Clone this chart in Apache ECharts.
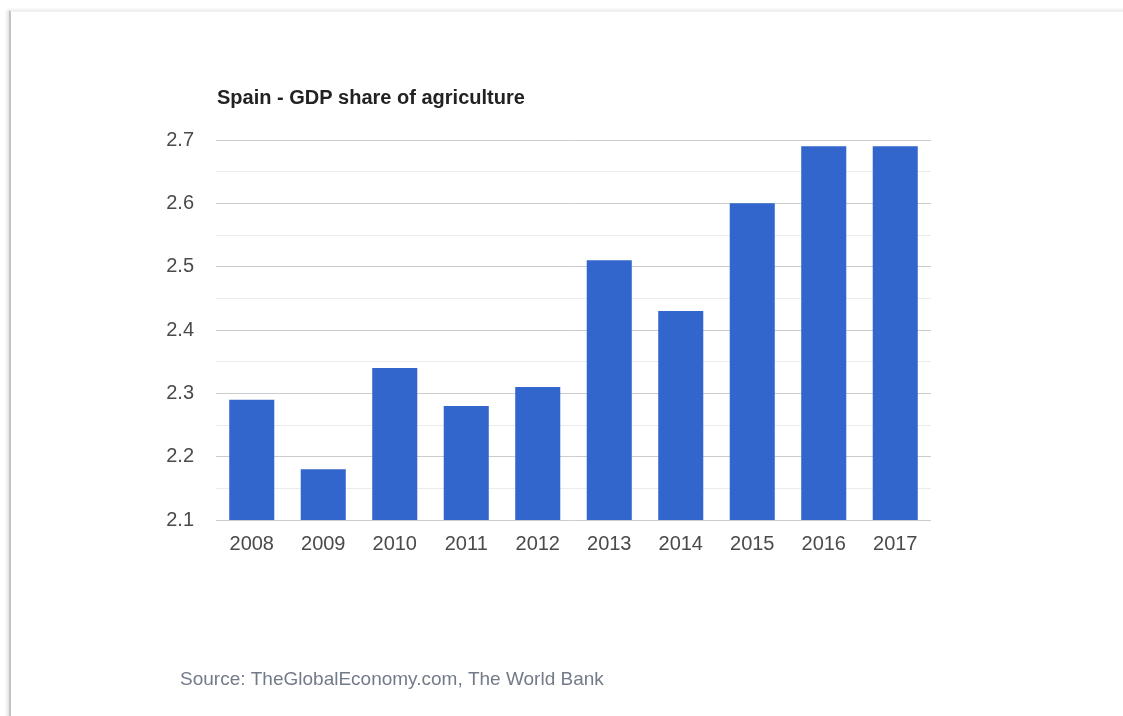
<!DOCTYPE html>
<html>
<head>
<meta charset="utf-8">
<script src="https://cdn.jsdelivr.net/npm/echarts@6/dist/echarts.min.js"></script>
<style>
html,body{margin:0;padding:0;background:#fff;}
#card{position:absolute;left:9px;top:10px;width:1120px;height:720px;background:#fff;
  border-left:2px solid #c4c4c4;border-top:2px solid #f0f0f0;box-shadow:-2px 0 3px rgba(0,0,0,0.12);}
#chart{position:absolute;left:0;top:0;width:1123px;height:716px;}
</style>
</head>
<body>
<div id="card"></div>
<div id="chart"></div>
<script>
const titleText = 'Spain - GDP share of agriculture';
const sourceText = 'Source: TheGlobalEconomy.com, The World Bank';
const years = ['2008','2009','2010','2011','2012','2013','2014','2015','2016','2017'];
const gdpShare = [2.29, 2.18, 2.34, 2.28, 2.31, 2.51, 2.43, 2.60, 2.69, 2.69];
const yTicks = {min: 2.1, max: 2.7, interval: 0.1};

const font = 'Arial, "Liberation Sans", sans-serif';
const chart = echarts.init(document.getElementById('chart'), null, {renderer: 'canvas'});
chart.setOption({
  backgroundColor: 'transparent',
  animation: false,
  title: {
    text: titleText, left: 217, top: 88, padding: 0,
    textStyle: {fontFamily: font, fontSize: 20, fontWeight: 'bold', color: '#222'}
  },
  graphic: [{
    type: 'text', left: 180, top: 670,
    style: {text: sourceText, fontFamily: font, fontSize: 19, fill: '#737b88'}
  }],
  grid: {left: 216, right: 192, top: 140, bottom: 196, containLabel: false},
  xAxis: {
    type: 'category', data: years,
    axisLine: {show: false}, axisTick: {show: false},
    axisLabel: {fontFamily: font, fontSize: 20, color: '#4a4a4a', margin: 14}
  },
  yAxis: {
    type: 'value', min: yTicks.min, max: yTicks.max, interval: yTicks.interval,
    axisLine: {show: false}, axisTick: {show: false},
    axisLabel: {fontFamily: font, fontSize: 20, color: '#4a4a4a', margin: 22,
      formatter: v => v.toFixed(1)},
    splitLine: {lineStyle: {color: '#cccccc', width: 1}},
    minorTick: {show: false, splitNumber: 2},
    minorSplitLine: {show: true, lineStyle: {color: '#ebebeb', width: 1}}
  },
  series: [{
    type: 'bar', data: gdpShare, barWidth: '63%',
    itemStyle: {color: '#3366cc'}
  }]
});
</script>
</body>
</html>
